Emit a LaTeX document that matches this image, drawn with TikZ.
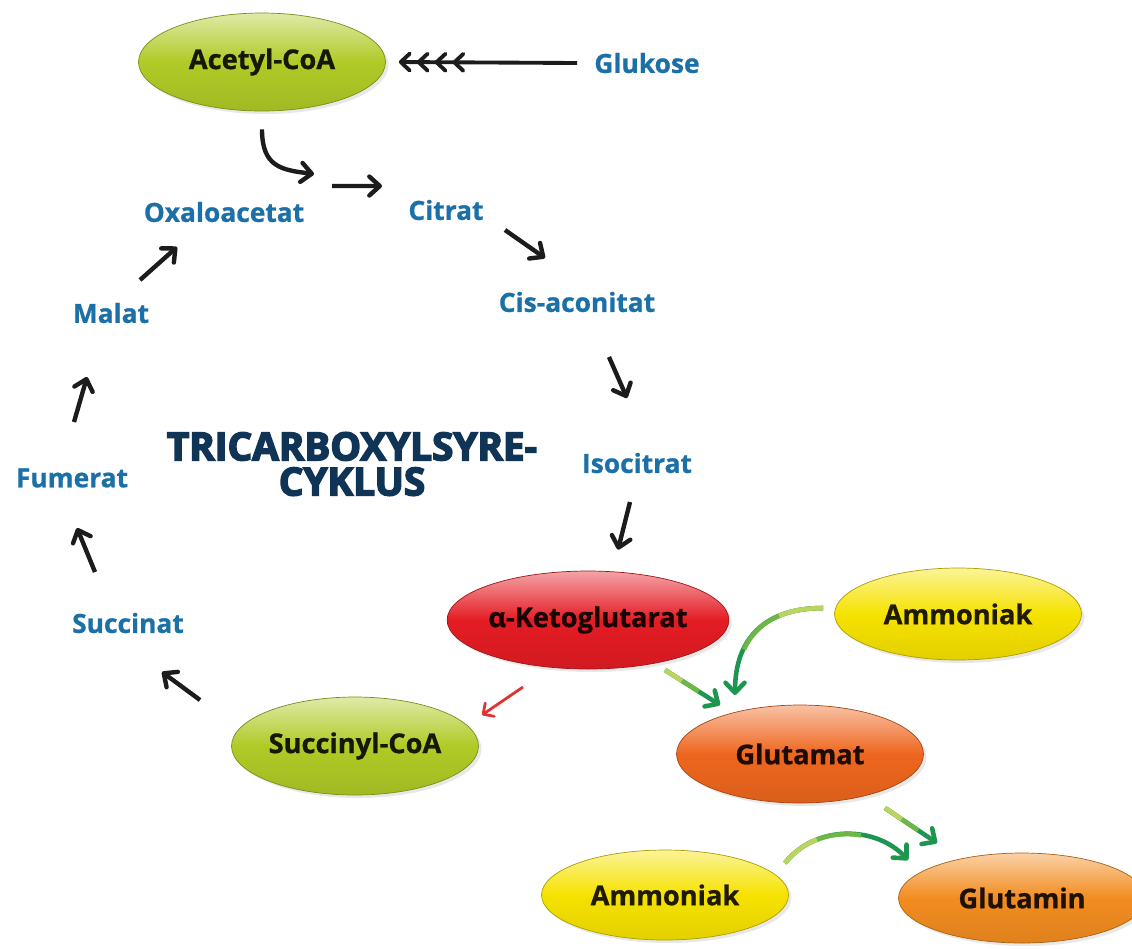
\documentclass[tikz,border=0pt]{standalone}
\usepackage{fontspec}
\setmainfont{Open Sans}[BoldFeatures={FakeBold=0.8}]
\newfontfamily\heavyfont{Open Sans}[BoldFeatures={FakeBold=4}]
\usetikzlibrary{shapes.geometric, arrows.meta, shadows}

\definecolor{cycleblue}{RGB}{28,112,168}
\definecolor{titlenavy}{RGB}{16,52,86}
\definecolor{arrowblack}{RGB}{28,28,28}
\definecolor{limegreen}{RGB}{176,202,38}
\definecolor{ketored}{RGB}{228,28,36}
\definecolor{ammoyellow}{RGB}{246,226,0}
\definecolor{glutorange}{RGB}{238,102,30}
\definecolor{glnorange}{RGB}{242,140,32}
\definecolor{arrowgreen}{RGB}{30,150,80}
\definecolor{midgreen}{RGB}{110,182,70}
\definecolor{tailgreen}{RGB}{186,212,96}
\definecolor{arrowred}{RGB}{222,52,52}

\begin{document}
\begin{tikzpicture}[x=0.02cm, y=-0.02cm]
        % Define styles
        \tikzset{
            metab/.style={text=cycleblue, font=\fontsize{15}{18}\selectfont\bfseries, inner sep=0pt},
            cycletitle/.style={text=titlenavy, align=center, font=\heavyfont\fontsize{22}{20}\selectfont\bfseries, inner sep=0pt},
            molecule/.style={ellipse, draw=#1!70!black, line width=0.4pt, top color=#1!40!white, bottom color=#1!92!black, middle color=#1, minimum width=4.94cm, minimum height=1.96cm, inner sep=0pt, font=\fontsize{15.5}{18}\selectfont\bfseries, text=#1!12!black, drop shadow={opacity=0.18, shadow xshift=0.06cm, shadow yshift=-0.06cm}},
            cycarrow/.style={draw=arrowblack, line width=2.5pt, -{Straight Barb[length=2.1mm, width=3.8mm, round]}},
            chevarrow/.style={draw=arrowblack, line width=2.2pt, -{Straight Barb[length=1.8mm, width=3.4mm, round, sep=1mm] Straight Barb[length=1.8mm, width=3.4mm, round, sep=1mm] Straight Barb[length=1.8mm, width=3.4mm, round, sep=1mm] Straight Barb[length=1.8mm, width=3.4mm, round]}},
            greenarrow/.style 2 args={draw=arrowgreen, line width=2.6pt, -{Straight Barb[length=2mm, width=3.8mm, round]},
                postaction={draw=midgreen, -, dash pattern=on #2 off 40cm},
                postaction={draw=tailgreen, -, dash pattern=on #1 off 40cm}},
            redarrow/.style={draw=arrowred, line width=1.6pt, -{Straight Barb[length=1.6mm, width=3.2mm, round]}}
        }
        \useasboundingbox[fill=white] (0,0) rectangle (1132,948);

        % Nodes
        \node[molecule=limegreen] (acetyl) at (262,62) {Acetyl-CoA};
        \node[metab] (glukose) at (647,63) {Glukose};
        \node[metab] (oxalo) at (224,212) {Oxaloacetat};
        \node[metab] (citrat) at (446,210) {Citrat};
        \node[metab] (cisacon) at (577,302) {Cis-aconitat};
        \node[metab] (malat) at (111,313) {Malat};
        \node[metab] (isocit) at (637,463) {Isocitrat};
        \node[metab] (fumerat) at (72,478) {Fumerat};
        \node[metab] (succinat) at (128,623) {Succinat};
        \node[cycletitle] (tca) at (352,464) {TRICARBOXYLSYRE-\\CYKLUS};
        \node[molecule=ketored] (keto) at (588,620) {α-Ketoglutarat};
        \node[molecule=limegreen] (succcoa) at (355,746) {Succinyl-CoA};
        \node[molecule=ammoyellow, minimum height=1.84cm] (ammon1) at (958,614) {Ammoniak};
        \node[molecule=glutorange] (glutamat) at (800,754) {Glutamat};
        \node[molecule=ammoyellow, minimum height=1.8cm] (ammon2) at (665,895) {Ammoniak};
        \node[molecule=glnorange, minimum height=1.8cm] (glutamin) at (1022,898) {Glutamin};
        \coordinate (join) at (332,186);

        % Arrows
        \draw[chevarrow] ([xshift=-1.4cm]glukose.center) -- ([xshift=0.26cm]acetyl.east);
        \draw[cycarrow] ([yshift=-0.36cm]acetyl.south) .. controls +(0,38) and +(-32,-4) .. ([xshift=-0.36cm,yshift=0.24cm]join);
        \draw[cycarrow] (join) -- ([xshift=-1.28cm,yshift=0.48cm]citrat.center);
        \draw[cycarrow] ([xshift=1.18cm,yshift=-0.4cm]citrat.center) -- ([xshift=-0.64cm,yshift=0.88cm]cisacon.center);
        \draw[cycarrow] ([xshift=0.64cm,yshift=-1.1cm]cisacon.center) -- ([xshift=-0.2cm,yshift=1.3cm]isocit.center);
        \draw[cycarrow] ([xshift=-0.14cm,yshift=-0.78cm]isocit.center) -- ([xshift=0.6cm,yshift=0.42cm]keto.north);
        \draw[redarrow] ([xshift=-1.3cm,yshift=-1.34cm]keto.center) -- ([xshift=2.54cm,yshift=0.62cm]succcoa.center);
        \draw[cycarrow] ([xshift=-3.1cm,yshift=0.92cm]succcoa.center) -- ([xshift=0.68cm,yshift=-0.98cm]succinat.center);
        \draw[cycarrow] ([xshift=-0.66cm,yshift=1.02cm]succinat.center) -- ([xshift=0.1cm,yshift=-1cm]fumerat.center);
        \draw[cycarrow] ([xshift=0.04cm,yshift=1.12cm]fumerat.center) -- ([xshift=-0.48cm,yshift=-1.28cm]malat.center);
        \draw[cycarrow] ([xshift=0.58cm,yshift=0.66cm]malat.center) -- ([xshift=-0.94cm,yshift=-0.7cm]oxalo.center);
        \draw[greenarrow={0.4cm}{0.8cm}] ([xshift=1.54cm,yshift=-1cm]keto.center) -- ([xshift=-1.6cm,yshift=0.98cm]glutamat.center);
        \draw[greenarrow={0.9cm}{1.9cm}] ([xshift=-0.22cm,yshift=0.12cm]ammon1.west) .. controls +(-60,0) and +(0,-55) .. ([xshift=-1.3cm,yshift=1.18cm]glutamat.center);
        \draw[greenarrow={0.4cm}{0.8cm}] ([xshift=1.7cm,yshift=-1.08cm]glutamat.center) -- ([xshift=-1.7cm,yshift=1.1cm]glutamin.center);
        \draw[greenarrow={0.8cm}{1.7cm}] ([xshift=2.4cm,yshift=0.64cm]ammon2.center) .. controls +(30,-38) and +(-33,-35) .. ([xshift=-2.28cm,yshift=0.76cm]glutamin.center);
    \end{tikzpicture}
\end{document}
